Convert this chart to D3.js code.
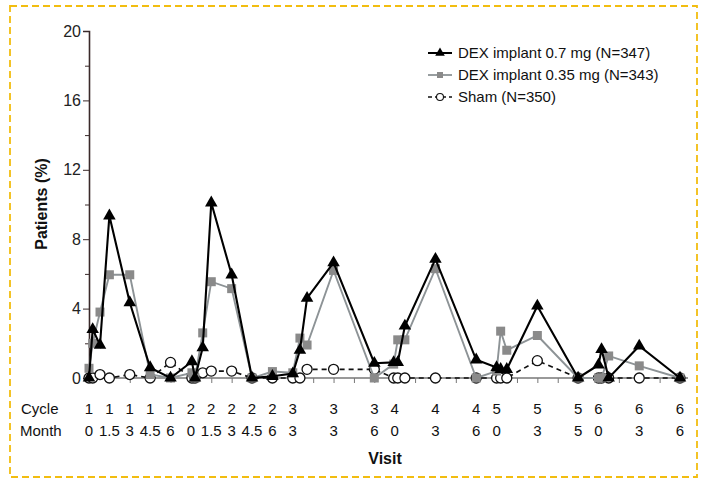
<!DOCTYPE html>
<html>
<head>
<meta charset="utf-8">
<script src="https://cdn.jsdelivr.net/npm/d3@7"></script>
<style>
  body { margin: 0; background: #fff; }
  svg { display: block; font-family: 'Liberation Sans', Arial, sans-serif; }
</style>
</head>
<body>
<script>
// visit positions along the axis (1 unit = one 1.5 month tick)
var visitSlots = [0, 0.18, 0.54, 1, 2, 3, 4,
                  5.05, 5.2, 5.58, 6, 7, 8, 9,
                  10, 10.35, 10.7, 12, 14,
                  14.95, 15.15, 15.5, 17, 19,
                  20, 20.2, 20.5, 22, 24,
                  25, 25.15, 25.5, 27, 29]

var dex07 = [0, 2.8, 1.9, 9.35, 4.35, 0.6, 0,
             0.95, 0, 1.75, 10.1, 5.95, 0, 0.1,
             0.25, 1.6, 4.6, 6.65, 0.85,
             0.9, 0.9, 3.0, 6.85, 1.05,
             0.6, 0.5, 0.5, 4.15, 0,
             0.75, 1.65, 0, 1.85, 0]

var dex035 = [0.56, 2.0, 3.8, 5.95, 5.95, 0.2, 0,
              0.3, 0, 2.6, 5.55, 5.15, 0, 0.37,
              0.3, 2.3, 1.9, 6.2, 0,
              0.8, 2.2, 2.2, 6.3, 0,
              0.4, 2.7, 1.6, 2.45, 0,
              0, 0, 1.27, 0.7, 0]

var sham = [0, 0, 0.2, 0, 0.2, 0, 0.9,
            0, 0, 0.3, 0.4, 0.4, 0, 0,
            0, 0, 0.5, 0.5, 0.5,
            0, 0, 0, 0, 0,
            0, 0, 0, 1.0, 0,
            0, 0, 0, 0, 0]

var labelSlots = [0, 1, 2, 3, 4, 5, 6, 7, 8, 9, 10, 12, 14, 15, 17, 19, 20, 22, 24, 25, 27, 29]
var cycleRow = ['1', '1', '1', '1', '1', '2', '2', '2', '2', '2', '3', '3', '3', '4', '4', '4', '5', '5', '5', '6', '6', '6']
var monthRow = ['0', '1.5', '3', '4.5', '6', '0', '1.5', '3', '4.5', '6', '3', '3', '6', '0', '3', '6', '0', '3', '5', '0', '3', '6']

var yMajor = [0, 4, 8, 12, 16, 20]
var yMinor = [2, 6, 10, 14, 18]

var seriesNames = ['DEX implant 0.7 mg (N=347)', 'DEX implant 0.35 mg (N=343)', 'Sham (N=350)']

var width = 703, height = 483
var svg = d3.select('body').append('svg').attr('width', width).attr('height', height)

// yellow dashed frame
svg.append('rect')
    .attr('x', 10).attr('y', 6).attr('width', 687).attr('height', 471)
    .attr('fill', 'none').attr('stroke', '#f2bd10').attr('stroke-width', 1.8)
    .attr('stroke-dasharray', '7,4')

var x = d3.scaleLinear().domain([0, 29]).range([89, 680])
var y = d3.scaleLinear().domain([0, 20]).range([378, 31])
var axisColor = '#3a2a2a'

// y axis
var yAxis = d3.axisLeft(y).tickValues(yMajor).tickSize(6).tickFormat(d3.format('d'))
var gy = svg.append('g').attr('transform', 'translate(89,0)').call(yAxis)
gy.select('.domain').attr('stroke', axisColor).attr('stroke-width', 1.6)
gy.selectAll('.tick line').attr('stroke', axisColor)
gy.selectAll('.tick text').attr('font-size', 16).attr('fill', '#222').attr('x', -8)
    .style('font-family', 'Liberation Sans, Arial, sans-serif')
var gyMinor = svg.append('g').attr('transform', 'translate(89,0)')
    .call(d3.axisLeft(y).tickValues(yMinor).tickSize(4).tickFormat(''))
gyMinor.select('.domain').remove()
gyMinor.selectAll('.tick line').attr('stroke', axisColor)

svg.append('text')
    .attr('transform', 'translate(47,204) rotate(-90)')
    .attr('text-anchor', 'middle')
    .attr('font-size', 16).attr('font-weight', 'bold').attr('fill', '#111')
    .text('Patients (%)')

// x axis
var xAxis = d3.axisBottom(x).tickValues(d3.range(0, 30)).tickSize(5).tickFormat('')
var gx = svg.append('g').attr('transform', 'translate(0,378)').call(xAxis)
gx.select('.domain').attr('d', 'M89,0H688').attr('stroke', '#777').attr('stroke-width', 1.5)
gx.selectAll('.tick line').attr('stroke', '#777')

// cycle / month rows
svg.append('text').attr('x', 21).attr('y', 414).attr('font-size', 15).attr('fill', '#111').text('Cycle')
svg.append('text').attr('x', 20).attr('y', 436).attr('font-size', 15).attr('fill', '#111').text('Month')
svg.selectAll('.cyc').data(labelSlots).enter().append('text')
    .attr('x', d => x(d)).attr('y', 414).attr('text-anchor', 'middle')
    .attr('font-size', 15).attr('fill', '#111')
    .text((d, i) => cycleRow[i])
svg.selectAll('.mon').data(labelSlots).enter().append('text')
    .attr('x', d => x(d)).attr('y', 436).attr('text-anchor', 'middle')
    .attr('font-size', 15).attr('fill', '#111')
    .text((d, i) => monthRow[i])
svg.append('text').attr('x', 385).attr('y', 464).attr('text-anchor', 'middle')
    .attr('font-size', 16).attr('font-weight', 'bold').attr('fill', '#111').text('Visit')

// series
var line = d3.line().x(d => x(d[0])).y(d => y(d[1]))
function pts(vals) { return visitSlots.map((s, i) => [s, vals[i]]) }

var gray = '#8d9396'
var sqFill = '#8a8a8a'

// sham
svg.append('path').datum(pts(sham)).attr('d', line)
    .attr('fill', 'none').attr('stroke', '#111').attr('stroke-width', 1.7).attr('stroke-dasharray', '5,4')
svg.selectAll('.sham').data(pts(sham)).enter().append('circle')
    .attr('cx', d => x(d[0])).attr('cy', d => y(d[1])).attr('r', 5)
    .attr('fill', '#fff').attr('stroke', '#111').attr('stroke-width', 1.3)

// 0.35 mg
svg.append('path').datum(pts(dex035)).attr('d', line)
    .attr('fill', 'none').attr('stroke', gray).attr('stroke-width', 1.9)
svg.selectAll('.sq').data(pts(dex035)).enter().append('rect')
    .attr('x', d => x(d[0]) - 4.5).attr('y', d => y(d[1]) - 4.5).attr('width', 9).attr('height', 9)
    .attr('fill', sqFill)

// 0.7 mg
var tri = d3.symbol().type(d3.symbolTriangle).size(68)
svg.append('path').datum(pts(dex07)).attr('d', line)
    .attr('fill', 'none').attr('stroke', '#000').attr('stroke-width', 2.1)
svg.selectAll('.tri').data(pts(dex07)).enter().append('path')
    .attr('d', tri).attr('transform', d => 'translate(' + x(d[0]) + ',' + y(d[1]) + ')')
    .attr('fill', '#000')

// legend
var legendY = [53, 75, 97]
var lg = svg.append('g')
lg.append('line').attr('x1', 428).attr('x2', 452).attr('y1', legendY[0]).attr('y2', legendY[0])
    .attr('stroke', '#000').attr('stroke-width', 2)
lg.append('path').attr('d', d3.symbol().type(d3.symbolTriangle).size(40))
    .attr('transform', 'translate(440,' + legendY[0] + ')').attr('fill', '#000')
lg.append('line').attr('x1', 428).attr('x2', 452).attr('y1', legendY[1]).attr('y2', legendY[1])
    .attr('stroke', gray).attr('stroke-width', 1.8)
lg.append('rect').attr('x', 437).attr('y', legendY[1] - 3).attr('width', 6).attr('height', 6).attr('fill', sqFill)
lg.append('line').attr('x1', 428).attr('x2', 452).attr('y1', legendY[2]).attr('y2', legendY[2])
    .attr('stroke', '#111').attr('stroke-width', 1.5).attr('stroke-dasharray', '4,3')
lg.append('circle').attr('cx', 440).attr('cy', legendY[2]).attr('r', 3.5)
    .attr('fill', '#fff').attr('stroke', '#111').attr('stroke-width', 1.1)
seriesNames.forEach(function(name, i) {
    lg.append('text').attr('x', 458).attr('y', legendY[i] + 5)
        .attr('font-size', 15).attr('fill', '#111').text(name)
})
</script>
</body>
</html>
